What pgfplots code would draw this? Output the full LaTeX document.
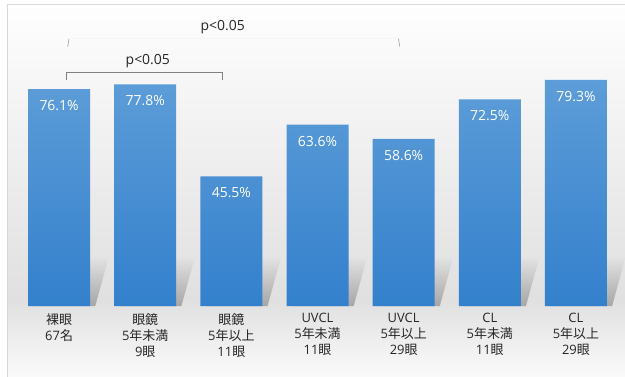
\documentclass[border=0pt]{standalone}
\usepackage{pgfplots}
\pgfplotsset{compat=1.18}
\usepackage{fontspec}
\setmainfont{Open Sans}
\newfontfamily\cjk{Noto Sans CJK JP}
\definecolor{bgmid}{HTML}{E0E0E0}
\definecolor{bgtop}{HTML}{FEFEFE}
\definecolor{bgbot}{HTML}{FAFAFA}
\definecolor{bartop}{HTML}{5D9DD8}
\definecolor{barbot}{HTML}{3380CC}
\definecolor{shtop}{HTML}{E0E0E0}
\definecolor{shbot}{HTML}{A6A6A6}
\definecolor{framec}{HTML}{D9D9D9}
\definecolor{brk}{HTML}{808080}
\begin{document}
\begin{tikzpicture}
\useasboundingbox (0,0) rectangle (625bp,377bp);
\fill[white] (0,0) rectangle (625bp,377bp);
\fill[top color=bgtop, bottom color=bgmid] (7bp,77bp) rectangle (625bp,372bp);
\fill[top color=bgmid, bottom color=bgbot] (7bp,0bp) rectangle (625bp,77.2bp);
\draw[framec, line width=1.2bp] (7.5bp,0) -- (7.5bp,372.5bp) -- (625bp,372.5bp);
\begin{axis}[
  at={(16bp,71bp)}, anchor=south west,
  scale only axis, width=603bp, height=285bp,
  xmin=-0.5, xmax=6.5, ymin=0, ymax=100,
  clip=false,
  axis line style={draw=none},
  tick style={draw=none},
  ytick=\empty,
  xtick={0,1,2,3,4,5,6},
  xticklabels={
    {{\cjk 裸眼}\\67{\cjk 名}},
    {{\cjk 眼鏡}\\5{\cjk 年未満}\\9{\cjk 眼}},
    {{\cjk 眼鏡}\\5{\cjk 年以上}\\11{\cjk 眼}},
    {UVCL\\5{\cjk 年未満}\\11{\cjk 眼}},
    {UVCL\\5{\cjk 年以上}\\29{\cjk 眼}},
    {CL\\5{\cjk 年未満}\\11{\cjk 眼}},
    {CL\\5{\cjk 年以上}\\29{\cjk 眼}}},
  xticklabel style={align=center, font=\fontsize{13}{16}\selectfont, text=black!85, yshift=-4bp},
  /pgf/number format/assume math mode=true,
]
% shadows (decorative)
\addplot[draw=none, top color=shtop, bottom color=shbot] coordinates {(-0.30,0) (0.42,0) (0.57,16.5) (-0.15,16.5)} -- cycle;
\addplot[draw=none, top color=shtop, bottom color=shbot] coordinates {(0.70,0) (1.42,0) (1.57,16.5) (0.85,16.5)} -- cycle;
\addplot[draw=none, top color=shtop, bottom color=shbot] coordinates {(1.70,0) (2.42,0) (2.57,16.5) (1.85,16.5)} -- cycle;
\addplot[draw=none, top color=shtop, bottom color=shbot] coordinates {(2.70,0) (3.42,0) (3.57,16.5) (2.85,16.5)} -- cycle;
\addplot[draw=none, top color=shtop, bottom color=shbot] coordinates {(3.70,0) (4.42,0) (4.57,16.5) (3.85,16.5)} -- cycle;
\addplot[draw=none, top color=shtop, bottom color=shbot] coordinates {(4.70,0) (5.42,0) (5.57,16.5) (4.85,16.5)} -- cycle;
\addplot[draw=none, top color=shtop, bottom color=shbot] coordinates {(5.70,0) (6.42,0) (6.57,16.5) (5.85,16.5)} -- cycle;
% bars
\addplot[ybar, bar width=62bp, draw=none, top color=bartop, bottom color=barbot,
  nodes near coords={\pgfmathprintnumber[fixed,precision=1,fixed zerofill]{\pgfplotspointmeta}\%},
  every node near coord/.append style={anchor=center, yshift=-16.5bp, text=white, font=\fontsize{14}{16}\selectfont}]
  coordinates {(0,76.1) (1,77.8) (2,45.5) (3,63.6) (4,58.6) (5,72.5) (6,79.3)};
% significance brackets
\draw[brk, line width=0.8bp] (axis cs:0.08,79.3) -- (axis cs:0.08,82.1) -- (axis cs:1.90,82.1) -- (axis cs:1.90,79.3);
\node[font=\fontsize{14}{16}\selectfont, text=black!85] at (axis cs:1.03,85.8) {p<0.05};
\draw[brk!70, line width=0.7bp] (axis cs:0.10,91.0) -- (axis cs:0.115,93.8);
\draw[brk!70, line width=0.7bp] (axis cs:3.955,91.0) -- (axis cs:3.94,93.8);
\draw[framec!25, line width=0.4bp] (axis cs:0.115,93.8) -- (axis cs:3.94,93.8);
\node[font=\fontsize{14}{16}\selectfont, text=black!85] at (axis cs:1.90,98.0) {p<0.05};
\end{axis}
\end{tikzpicture}
\end{document}
